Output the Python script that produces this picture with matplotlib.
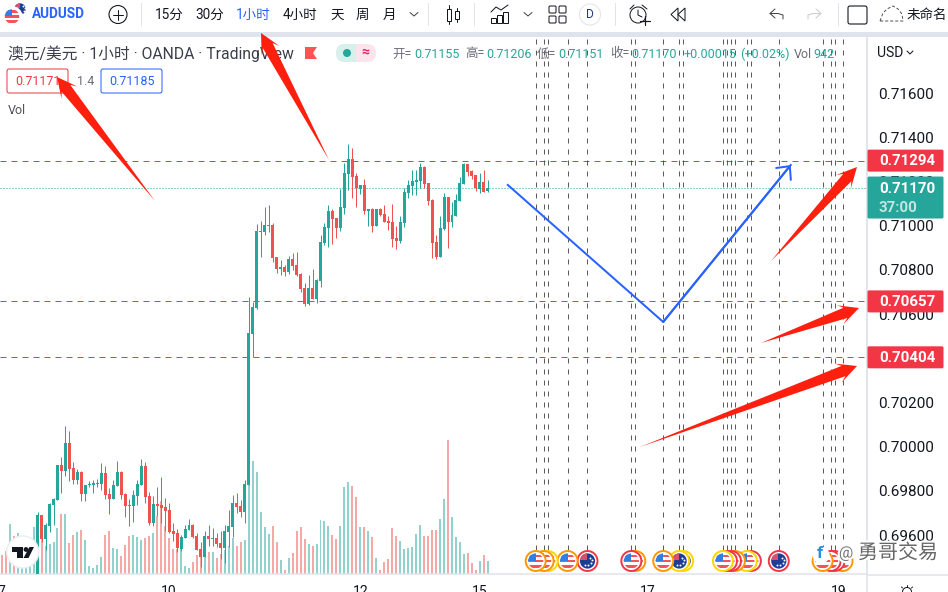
import numpy as np
import matplotlib
matplotlib.use("Agg")
import matplotlib.pyplot as plt
import matplotlib.patheffects as pe
from matplotlib.patches import Circle, FancyBboxPatch, Polygon, Rectangle

plt.rcParams["font.family"] = ["Roboto", "Noto Sans CJK SC", "DejaVu Sans"]
plt.rcParams["lines.scale_dashes"] = False

UP = "#26a69a"
DOWN = "#ef5350"
LEVEL_RED = "#f23645"
BLUE = "#2962ff"
ARROW_RED = "#ff1f0f"
TEXT = "#131722"
PANEL_LINE = "#e0e3eb"

# Hourly bars, prices in 0.00001 steps. Candles start at bar 9, earlier ones are below the axis.
first_candle = 9
opens = [
    69400, 69689, 69581, 69641, 69736, 69759, 69917, 69890, 70018, 69904,
    69849, 69887, 69786, 69825, 69827, 69831, 69831, 69881, 69786, 69763,
    69822, 69886, 69786, 69736, 69732, 69777, 69827, 69913, 69777, 69653,
    69741, 69736, 69727, 69714, 69619, 69611, 69536, 69587, 69623, 69646,
    69596, 69537, 69502, 69596, 69584, 69587, 69564, 69539, 69614, 69637,
    69745, 69732, 69704, 69826, 70509, 70626, 70971, 70971, 70999, 71003,
    70858, 70804, 70813, 70791, 70849, 70822, 70782, 70718, 70646, 70718,
    70668, 70750, 70922, 70990, 71067, 71035, 70990, 71080, 71234, 71302,
    71225, 71166, 71184, 71067, 71076, 70999, 71076, 71053, 71021, 71017,
    70944, 70931, 71012, 71148, 71180, 71198, 71202, 71266, 71193, 71116,
    70926, 70858, 70985, 71130, 71017, 71044, 71112, 71189, 71279, 71247,
    71229, 71166, 71198, 71155,
]
highs = [
    69705, 69689, 69653, 69744, 69768, 69917, 69955, 70094, 70071, 69932,
    69898, 69890, 69827, 69845, 69849, 69852, 69925, 69913, 69812, 69849,
    69935, 69890, 69789, 69762, 69804, 69849, 69943, 69932, 69795, 69777,
    69816, 69861, 69766, 69744, 69653, 69628, 69600, 69646, 69671, 69649,
    69608, 69570, 69619, 69646, 69631, 69611, 69616, 69646, 69714, 69781,
    69789, 69759, 69849, 70677, 70654, 71008, 71020, 71083, 71094, 71011,
    70858, 70845, 70822, 70863, 70878, 70881, 70785, 70739, 70777, 70804,
    70759, 70958, 71011, 71094, 71074, 71035, 71165, 71285, 71370, 71352,
    71237, 71184, 71211, 71076, 71079, 71076, 71080, 71094, 71044, 71098,
    70999, 71044, 71171, 71207, 71252, 71252, 71284, 71270, 71193, 71119,
    70958, 71044, 71146, 71130, 71107, 71143, 71219, 71284, 71279, 71252,
    71229, 71237, 71252, 71206,
]
lows = [
    69390, 69570, 69530, 69614, 69644, 69759, 69792, 69867, 69846, 69831,
    69831, 69756, 69756, 69816, 69792, 69816, 69804, 69762, 69696, 69763,
    69822, 69762, 69683, 69641, 69661, 69736, 69827, 69745, 69646, 69641,
    69686, 69653, 69620, 69608, 69575, 69525, 69528, 69587, 69623, 69587,
    69530, 69457, 69502, 69548, 69548, 69545, 69492, 69475, 69545, 69593,
    69699, 69680, 69656, 69826, 70405, 70623, 70860, 70958, 70969, 70836,
    70785, 70777, 70772, 70782, 70800, 70772, 70700, 70634, 70641, 70668,
    70652, 70724, 70913, 70905, 70917, 70944, 70976, 71053, 71162, 71125,
    71085, 71143, 71053, 70999, 70972, 70999, 71044, 71017, 70981, 70904,
    70895, 70922, 70994, 71125, 71139, 71139, 71169, 71169, 71094, 70854,
    70849, 70858, 70981, 70899, 70994, 71044, 71112, 71189, 71225, 71211,
    71157, 71148, 71152, 71151,
]
closes = [
    69689, 69581, 69646, 69741, 69762, 69917, 69890, 70018, 69898, 69848,
    69887, 69786, 69827, 69831, 69837, 69836, 69881, 69781, 69765, 69827,
    69886, 69783, 69732, 69732, 69781, 69831, 69913, 69771, 69656, 69741,
    69732, 69723, 69709, 69614, 69605, 69539, 69591, 69628, 69646, 69591,
    69533, 69502, 69596, 69581, 69587, 69560, 69539, 69619, 69641, 69745,
    69727, 69705, 69831, 70514, 70632, 70976, 70976, 71003, 71003, 70854,
    70804, 70813, 70791, 70849, 70818, 70777, 70714, 70646, 70718, 70668,
    70754, 70926, 70994, 71067, 71030, 70990, 71085, 71238, 71302, 71220,
    71171, 71184, 71067, 71076, 70999, 71076, 71048, 71017, 71012, 70940,
    70931, 71017, 71152, 71184, 71202, 71207, 71266, 71189, 71112, 70922,
    70858, 70990, 71130, 71017, 71048, 71116, 71193, 71279, 71243, 71225,
    71171, 71198, 71152, 71170,
]

volumes = [
    1380, 1670, 3625, 2760, 2970, 2000, 2000, 1500, 3400, 2900,
    2760, 2030, 2175, 2320, 3340, 4350, 4350, 2250, 2830, 3045,
    3190, 2465, 580, 435, 650, 1230, 2830, 3120, 1890, 1810,
    1300, 2100, 2760, 2830, 2680, 2465, 2610, 2760, 2970, 4200,
    5290, 3480, 2610, 1810, 1810, 1890, 580, 435, 870, 1380,
    1810, 1230, 1600, 1600, 1160, 1450, 1740, 2030, 2610, 2030,
    2320, 2465, 7250, 8190, 7390, 4490, 3400, 2900, 3480, 2320,
    1015, 290, 1160, 1520, 3120, 3400, 2540, 2175, 2030, 2175,
    3915, 3840, 3480, 2830, 2540, 3480, 6310, 6670, 6380, 5580,
    3400, 3400, 3120, 2680, 1160, 290, 870, 1090, 3340, 2760,
    2390, 1810, 1890, 1960, 2900, 3550, 2760, 2760, 3190, 3190,
    3990, 5440, 9720, 4130, 2680, 2320, 1450, 1520, 800, 290,
    942, 1380, 942,
]
early_volume_up = [0, 0, 1, 0, 1, 1, 1, 1, 1]

price_ticks = [0.716, 0.714, 0.712, 0.710, 0.708, 0.706, 0.704, 0.702, 0.700, 0.698, 0.696]
date_ticks = [0, 42, 90, 120, 162, 210]
date_labels = ["7", "10", "12", "15", "17", "19"]

level_prices = [0.71294, 0.70657, 0.70404]
last_price = 0.71170

blue_path_x = [127, 166, 198]
blue_path_y = [0.71184, 0.70564, 0.71274]

event_bars = [134, 136, 137, 142, 147, 158, 159, 166, 170, 171, 181,
              182, 183, 184, 187, 188, 195, 206, 208, 209, 211]
event_kinds = ["US", "US", "US", "US", "AU", "US", "US", "US", "AU", "AU", "US",
               "US", "US", "US", "US", "US", "AU", "US", "US", "US", "US"]
event_rings = ["#ff9800", "#ff9800", "#ffd600", "#ff9800", "#f23645", "#f23645", "#ff9800",
               "#ff9800", "#ffd600", "#ffd600", "#ffd600", "#f23645", "#f23645", "#ff9800",
               "#ffd600", "#f23645", "#f23645", "#ff9800", "#f23645", "#f23645", "#ff9800"]

# tail and tip of the hand drawn arrows, in image pixels
red_arrows = [
    ((155, 201), (57, 77)),
    ((329, 160), (261, 33)),
    ((771, 261), (857, 167)),
    ((761, 343), (859, 308)),
    ((640, 447), (857, 366)),
]

W, H = 948, 592
PLOT_RIGHT, PLOT_TOP, PLOT_BOTTOM = 867, 37, 574
BAR_X0, BAR_STEP = 1.7, 3.985
PRICE_Y0, PX_PER_PRICE = 93, 22100


def px(size):
    return size * 0.72


def bar_to_px(i):
    return BAR_X0 + BAR_STEP * i


def price_to_py(p):
    return PRICE_Y0 + (0.716 - p) * PX_PER_PRICE


def tapered_arrow(ov, tail, tip, head_len=20, head_half=10, neck_half=5.5):
    tail, tip = np.array(tail, float), np.array(tip, float)
    d = (tip - tail) / np.linalg.norm(tip - tail)
    n = np.array([-d[1], d[0]])
    base = tip - d * head_len
    neck = tip - d * head_len * 0.72
    pts = [tail, neck + n * neck_half, base + n * head_half, tip,
           base - n * head_half, neck - n * neck_half]
    ov.add_patch(Polygon(pts, closed=True, color=ARROW_RED, lw=0, zorder=20))


def draw_flag(ov, cx, cy, kind, ring, r=10.5, z=6):
    ov.add_patch(Circle((cx, cy), r, fc="white", ec=ring, lw=1.4, zorder=z))
    inner = r * 0.76
    clip = Circle((cx, cy), inner, transform=ov.transData)
    if kind == "US":
        for k in range(-3, 4):
            color = "#f4535a" if k % 2 == 0 else "white"
            s = Rectangle((cx - r, cy + k * 2.6 - 1.3), 2 * r, 2.6, fc=color, lw=0, zorder=z)
            ov.add_patch(s)
            s.set_clip_path(clip)
        s = Rectangle((cx - r, cy - r), r * 1.0, r * 0.95, fc="#2f80e4", lw=0, zorder=z)
        ov.add_patch(s)
        s.set_clip_path(clip)
    else:
        s = Circle((cx, cy), inner, fc="#1c3f94", lw=0, zorder=z)
        ov.add_patch(s)
        s = Rectangle((cx - r, cy - r), r * 0.95, r * 0.9, fc="#d9506a", lw=0, zorder=z)
        ov.add_patch(s)
        s.set_clip_path(clip)
        ov.scatter([cx + 3, cx + 4, cx + 1, cx + 5, cx - 2], [cy - 3, cy + 2, cy + 4, cy - 1, cy + 4],
                   s=2, c="white", lw=0, zorder=z)


def main():
    o = np.array(opens) / 1e5
    h = np.array(highs) / 1e5
    l = np.array(lows) / 1e5
    c = np.array(closes) / 1e5
    candle_x = np.arange(len(o)) + first_candle
    rising = c >= o

    fig = plt.figure(figsize=(W / 100, H / 100), dpi=100, facecolor="white")
    rect = [0, (H - PLOT_BOTTOM) / H, PLOT_RIGHT / W, (PLOT_BOTTOM - PLOT_TOP) / H]
    xlim = ((0 - BAR_X0) / BAR_STEP, (PLOT_RIGHT - BAR_X0) / BAR_STEP)

    # Volume pane sits under the candles and shares the plot area
    vol_ax = fig.add_axes(rect, zorder=1)
    vol_colors = [(UP if up else DOWN) for up in early_volume_up] + [UP if r else DOWN for r in rising]
    vol_ax.bar(np.arange(len(volumes)), volumes, width=0.5, color=vol_colors, alpha=0.5, lw=0)
    vol_ax.set_xlim(xlim)
    vol_ax.set_ylim(0, (PLOT_BOTTOM - PLOT_TOP) * 72.5)
    vol_ax.axis("off")

    ax = fig.add_axes(rect, zorder=2)
    ax.patch.set_alpha(0)
    ax.set_xlim(xlim)
    ax.set_ylim(0.716 - (PLOT_BOTTOM - PRICE_Y0) / PX_PER_PRICE, 0.716 + (PRICE_Y0 - PLOT_TOP) / PX_PER_PRICE)

    candle_colors = np.where(rising, UP, DOWN)
    ax.vlines(candle_x, l, h, colors=candle_colors, lw=px(1), zorder=3)
    ax.bar(candle_x, np.maximum(np.abs(c - o), 0.00002), bottom=np.minimum(o, c), width=0.75,
           color=candle_colors, lw=0, zorder=3)

    for level in level_prices:
        ax.axhline(level, color=LEVEL_RED, lw=px(1), ls=(0, (px(6), px(5))), zorder=2)
    ax.axhline(last_price, color=UP, lw=px(1), ls=(0, (px(1), px(2))), zorder=2)

    flag_frac = (PLOT_BOTTOM - 561) / (PLOT_BOTTOM - PLOT_TOP)
    for bar in event_bars:
        ax.axvline(bar, ymin=flag_frac, color="#4a4a4a", lw=px(0.9), ls=(0, (px(5), px(6))), zorder=2)

    ax.plot(blue_path_x, blue_path_y, color=BLUE, lw=px(2), zorder=4)
    ax.annotate("", xy=(blue_path_x[2], blue_path_y[2]), xytext=(blue_path_x[1], blue_path_y[1]),
                arrowprops=dict(arrowstyle="->,head_length=7.2,head_width=6.8", color=BLUE, lw=px(2),
                                mutation_scale=1, shrinkA=0, shrinkB=0), zorder=4)

    ax.yaxis.tick_right()
    ax.set_yticks(price_ticks)
    ax.set_yticklabels([f"{p:.5f}" for p in price_ticks])
    ax.set_xticks(date_ticks)
    ax.set_xticklabels(date_labels)
    ax.tick_params(axis="y", length=0, pad=px(11.5), labelsize=px(15.3), labelcolor=TEXT)
    ax.tick_params(axis="x", length=0, pad=px(11), labelsize=px(14), labelcolor=TEXT)
    for side in ["top", "left"]:
        ax.spines[side].set_visible(False)
    for side in ["right", "bottom"]:
        ax.spines[side].set_color(PANEL_LINE)
        ax.spines[side].set_linewidth(px(1.5))

    # Everything else is drawn in image pixels on a full size overlay
    ov = fig.add_axes([0, 0, 1, 1], zorder=5)
    ov.set_xlim(0, W)
    ov.set_ylim(H, 0)
    ov.axis("off")
    ov.patch.set_alpha(0)

    def label(x, y, s, size=13, color=TEXT, ha="left", **kw):
        return ov.text(x, y, s, fontsize=px(size), color=color, ha=ha, va="center", **kw)

    def stroke(xs, ys, color=TEXT, lw=1.0, **kw):
        ov.plot(xs, ys, color=color, lw=px(lw), solid_capstyle="round", **kw)

    # panel edges
    ov.add_patch(Rectangle((0, 32), W, 4.5, fc=PANEL_LINE, lw=0))
    ov.plot([PLOT_RIGHT + 0.5, PLOT_RIGHT + 0.5], [36, H], color=PANEL_LINE, lw=px(1.5))
    ov.plot([PLOT_RIGHT, W], [574.5, 574.5], color=PANEL_LINE, lw=px(1.5))

    # toolbar
    draw_flag(ov, 20, 9, "AU", "white", r=7.5, z=3)
    draw_flag(ov, 12, 16.5, "US", "white", r=9.5, z=4)
    label(31.5, 14.5, "AUDUSD", size=13.5, color=BLUE, fontweight="bold")
    ov.add_patch(Circle((118, 14.5), 9, fc="none", ec=TEXT, lw=px(1.1)))
    stroke([113, 123], [14.5, 14.5])
    stroke([118, 118], [9.5, 19.5])
    for sep_x in [141, 428, 474, 615, 838]:
        stroke([sep_x, sep_x], [3, 25], color=PANEL_LINE)
    for x, s, col in [(155, "15分", TEXT), (195, "30分", TEXT), (236, "1小时", BLUE), (283, "4小时", TEXT),
                      (330, "天", TEXT), (356, "周", TEXT), (383, "月", TEXT)]:
        label(x, 14.5, s, size=13.5, color=col)
    stroke([410, 414, 418], [12.5, 16, 12.5], color="#444444")
    stroke([449, 449], [5, 24])
    stroke([457, 457], [8, 22])
    ov.add_patch(Rectangle((447, 9), 4, 12, fc="white", ec=TEXT, lw=px(1), zorder=3))
    ov.add_patch(Rectangle((455, 11), 4, 8, fc="white", ec=TEXT, lw=px(1), zorder=3))
    stroke([491, 496, 501, 508], [12, 7, 10, 5])
    for bx, by in [(491, 18), (497, 15), (503, 12)]:
        ov.add_patch(Rectangle((bx, by), 5, 23 - by, fc="none", ec=TEXT, lw=px(1)))
    stroke([524, 528, 532], [12.5, 16, 12.5], color="#444444")
    for gx, gy in [(549, 6), (559, 6), (549, 16), (559, 16)]:
        ov.add_patch(FancyBboxPatch((gx + 1, gy + 1), 5, 5, boxstyle="round,pad=1", fc="none", ec=TEXT, lw=px(1)))
    ov.add_patch(Circle((590, 14.5), 10.5, fc="white", ec=PANEL_LINE, lw=px(1)))
    label(590, 14.5, "D", size=12, color="#2a3a80", ha="center")
    ov.add_patch(Circle((638, 15), 8, fc="none", ec=TEXT, lw=px(1)))
    stroke([638, 638, 642], [10, 15, 17])
    stroke([630, 634], [9, 5])
    stroke([642, 647], [5, 9])
    stroke([640, 650], [21, 21], lw=1.2)
    stroke([645, 645], [16, 25], lw=1.2)
    ov.add_patch(Polygon([(678, 8), (671, 14.5), (678, 21)], closed=True, fc="none", ec=TEXT, lw=px(1)))
    ov.add_patch(Polygon([(685, 8), (678, 14.5), (685, 21)], closed=True, fc="none", ec=TEXT, lw=px(1)))
    stroke([775, 770, 775], [9, 13.5, 18], color="#444444")
    stroke([770, 778, 783, 783], [13.5, 13.5, 15, 19], color="#444444")
    stroke([816, 821, 816], [9, 13.5, 18], color="#c8cbd3")
    stroke([821, 813, 808, 808], [13.5, 13.5, 15, 19], color="#c8cbd3")
    ov.add_patch(FancyBboxPatch((850, 8), 15, 14, boxstyle="round,pad=2", fc="none", ec=TEXT, lw=px(1.1)))
    stroke([880, 883, 887, 893, 898, 902, 903, 880, 880], [21, 13, 9, 6, 9, 14, 21, 21, 21], color="#555555",
           ls=(0, (px(3), px(2))))
    label(907, 15, "未命名", size=13.5)

    # legend rows
    label(8, 54, "澳元/美元 · 1小时 · OANDA · TradingView", size=15.7, color="#3a3e4a")
    ov.add_patch(Polygon([(305, 47), (317, 47), (313, 53), (317, 59), (305, 59)], closed=True, fc="#ff5252", lw=0))
    pill = FancyBboxPatch((336, 44), 40, 18, boxstyle="round,pad=0,rounding_size=9", fc="#fce4ec", lw=0)
    ov.add_patch(pill)
    green_half = Rectangle((336, 44), 20, 18, fc="#d6f0ec", lw=0)
    ov.add_patch(green_half)
    green_half.set_clip_path(pill)
    ov.add_patch(Circle((347, 53), 4, fc=UP, lw=0))
    label(365, 53, "≈", size=14, color="#e91e63", ha="center", fontweight="bold")
    for x, s, col in [(392, "开=", "#6a6d78"), (414, "0.71155", UP), (465, "高=", "#6a6d78"), (486, "0.71206", UP),
                      (537, "低=", "#6a6d78"), (558, "0.71151", UP), (610, "收=", "#6a6d78"), (631, "0.71170", UP),
                      (683, "+0.00015", UP), (740, "(+0.02%)", UP), (794, "Vol", "#6a6d78"), (813, "942", UP)]:
        label(x, 54, s, size=12.5, color=col)
    ov.add_patch(FancyBboxPatch((8, 70), 59, 22, boxstyle="round,pad=1,rounding_size=2", fc="white", ec=LEVEL_RED, lw=px(1)))
    label(15, 81.5, "0.71171", size=12.5, color=LEVEL_RED)
    label(77, 81.5, "1.4", size=12.5, color="#6a6d78")
    ov.add_patch(FancyBboxPatch((102, 70), 59, 22, boxstyle="round,pad=1,rounding_size=2", fc="white", ec=BLUE, lw=px(1)))
    label(109, 81.5, "0.71185", size=12.5, color=BLUE)
    label(8, 110, "Vol", size=12.5, color="#50535e")

    # price axis
    label(877, 53, "USD", size=14)
    stroke([907, 910, 913], [51, 54, 51], color=TEXT)
    for level in level_prices:
        y = price_to_py(level)
        ov.add_patch(FancyBboxPatch((868, y - 10.5), 75, 21, boxstyle="round,pad=0.5,rounding_size=1.5", fc=LEVEL_RED, lw=0, zorder=8))
        label(879, y + 0.5, f"{level:.5f}", size=15, color="white", fontweight="bold", zorder=9)
    y = price_to_py(last_price)
    ov.add_patch(FancyBboxPatch((868, y - 11), 75, 41, boxstyle="round,pad=0.5,rounding_size=1.5", fc=UP, lw=0, zorder=8))
    label(879, y + 0.5, f"{last_price:.5f}", size=15, color="white", fontweight="bold", zorder=9)
    label(879, y + 19.5, "37:00", size=15, color="#bfe6e1", fontweight="bold", zorder=9)

    # TradingView badge
    ov.add_patch(Circle((22.7, 552), 16, fc="white", ec="#eceef2", lw=px(1.5), zorder=6))
    ov.add_patch(Polygon([(12, 547), (23, 547), (23, 558), (17, 558), (17, 552), (12, 552)], closed=True, fc="#131722", lw=0, zorder=7))
    ov.add_patch(Circle((26, 549.5), 2.4, fc="#131722", lw=0, zorder=7))
    ov.add_patch(Polygon([(29.5, 547), (34, 547), (28.5, 558), (23.5, 558)], closed=True, fc="#131722", lw=0, zorder=7))

    # event flags, left ones on top
    for n, (bar, kind, ring) in enumerate(zip(event_bars, event_kinds, event_rings)):
        draw_flag(ov, bar_to_px(bar), 561, kind, ring, r=10, z=6 + (len(event_bars) - n) * 0.01)

    # settings icon, cut off by the image edge
    ov.add_patch(Circle((907, 592), 4.5, fc="none", ec=TEXT, lw=px(1)))
    stroke([907, 907], [585, 586.5])
    stroke([901.5, 902.5], [587, 588])
    stroke([912.5, 911.5], [587, 588])

    for tail, tip in red_arrows:
        tapered_arrow(ov, tail, tip)

    # watermark
    halo = [pe.withStroke(linewidth=3, foreground="white")]
    ov.add_patch(Circle((821, 555), 8.5, fc="white", lw=0, zorder=21))
    label(820, 553, "f", size=17, color="#2a8fd8", ha="center", fontweight="bold", zorder=22)
    label(846, 553, "@", size=16, color="#777777", ha="center", zorder=22, path_effects=halo)
    label(858, 553, "勇哥交易", size=20, color="#666666", zorder=22, path_effects=halo)

    fig.savefig("out.png", dpi=100)


if __name__ == "__main__":
    main()
